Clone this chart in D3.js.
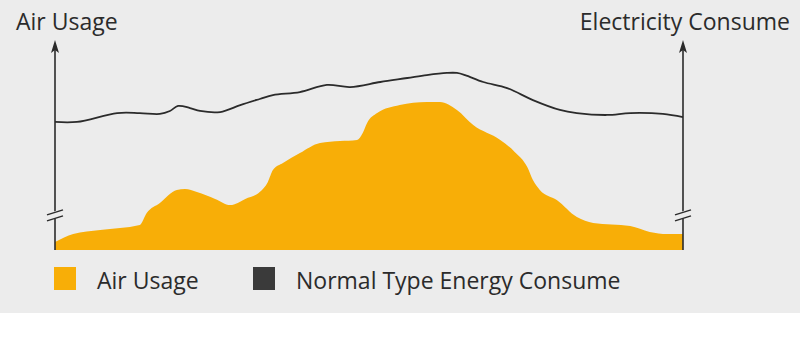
<!DOCTYPE html>
<html>
<head>
<meta charset="utf-8">
<script src="https://cdn.jsdelivr.net/npm/d3@7"></script>
<style>
  html, body { margin: 0; padding: 0; background: #ffffff; }
  svg { display: block; }
</style>
</head>
<body>
<svg id="chart" width="800" height="360"></svg>
<script>
// ---- Data ----
// time position along the x axis (0–100) and air usage value (0–100)
const airTime  = [0, 2.9, 7.2, 13.5, 14.6, 16.7, 19.4, 20.7, 22.6, 25.5, 27.9, 30.3, 32.6, 33.9, 34.7, 36.3, 39, 42.2, 45.4, 48.1, 49, 49.7, 51.3, 54.9, 59.2, 61.3, 64, 66.6, 70.9, 73.2, 75.2, 76.1, 77.2, 79.9, 83.1, 85.7, 91.6, 94.7, 97.5, 100];
const airValue = [3.8, 7.6, 9.5, 11.9, 17.6, 22.4, 28.6, 29, 27.6, 24.3, 21.4, 24.3, 27.6, 32.4, 38.1, 41.4, 46.2, 51, 51.9, 52.4, 55.7, 60.5, 65.2, 69, 70.5, 70.5, 66.7, 59.5, 52.4, 46.7, 39.5, 33.3, 28.6, 23.8, 15.7, 12.9, 11.4, 8.6, 7.6, 7.6];
// electricity consume (normal type) values
const elecTime  = [0, 3.5, 9.9, 13.5, 16.7, 18.3, 19.6, 21.5, 23.1, 26.3, 29.5, 32.6, 34.7, 39, 43.3, 47, 51.8, 56.1, 59.2, 62.4, 64, 65.3, 68.2, 72, 76.1, 80.4, 83.1, 87.9, 91.6, 96.8, 100];
const elecValue = [61, 61, 65.2, 65.2, 64.8, 66.2, 68.6, 67.6, 66.2, 65.7, 69, 71.9, 73.8, 75.2, 78.6, 77.6, 80, 81.9, 83.3, 84.3, 84.3, 83.3, 80, 77.1, 71.4, 66.7, 65.2, 64.3, 65.2, 64.8, 63.3];

const leftAxisTitle  = "Air Usage";
const rightAxisTitle = "Electricity Consume";
const legendLabels   = ["Air Usage", "Normal Type Energy Consume"];
const legendColors   = ["#f8ae07", "#3a3a3a"];

// ---- Layout ----
const svg = d3.select("#chart");
const W = 800, H = 360;
const mLeft = 55, mRight = 683, mTop = 40, mBottom = 250;
const FONT = "'Open Sans', 'Noto Sans', sans-serif";
const INK = "#2b2b2b";

svg.append("rect").attr("x", 0).attr("y", 0).attr("width", W).attr("height", 313).attr("fill", "#ececec");

const x  = d3.scaleLinear().domain([0, 100]).range([mLeft, mRight]);
const yL = d3.scaleLinear().domain([0, 100]).range([mBottom, mTop]);
const yR = d3.scaleLinear().domain([0, 100]).range([mBottom, mTop]);

const air  = airTime.map((t, i) => ({ t, v: airValue[i] }));
const elec = elecTime.map((t, i) => ({ t, v: elecValue[i] }));

// area
svg.append("path")
  .datum(air)
  .attr("fill", legendColors[0])
  .attr("d", d3.area().x(d => x(d.t)).y0(yL(0)).y1(d => yL(d.v)).curve(d3.curveMonotoneX));

// line
svg.append("path")
  .datum(elec)
  .attr("fill", "none")
  .attr("stroke", INK)
  .attr("stroke-width", 1.8)
  .attr("stroke-linejoin", "round")
  .attr("d", d3.line().x(d => x(d.t)).y(d => yR(d.v)).curve(d3.curveCatmullRom.alpha(0.5)));

// axes (no ticks) with arrowheads and break marks
const axisL = d3.axisLeft(yL).tickValues([]).tickSizeOuter(0);
const axisR = d3.axisRight(yR).tickValues([]).tickSizeOuter(0);
const gL = svg.append("g").attr("transform", `translate(${mLeft},0)`).call(axisL);
const gR = svg.append("g").attr("transform", `translate(${mRight},0)`).call(axisR);
[gL, gR].forEach(g => {
  g.select(".domain").remove();
  g.append("line").attr("x1", 0).attr("x2", 0)
    .attr("y1", mBottom).attr("y2", mTop + 6)
    .attr("stroke", INK).attr("stroke-width", 1.6);
  g.append("path")
    .attr("d", `M0,${mTop} L-4,${mTop + 13} L0,${mTop + 10} L4,${mTop + 13} Z`)
    .attr("fill", INK);
  const by = yL(16.5);
  g.append("rect").attr("x", -8).attr("y", by - 4).attr("width", 16).attr("height", 7)
    .attr("fill", "#ececec").attr("transform", `rotate(-18,0,${by})`);
  [-3, 3].forEach(o => {
    g.append("line").attr("x1", -8).attr("x2", 8)
      .attr("y1", by + o + 2.5).attr("y2", by + o - 2.5)
      .attr("stroke", INK).attr("stroke-width", 1.5);
  });
});

// axis titles
svg.append("text").attr("x", 16).attr("y", 30).attr("font-family", FONT)
  .attr("font-size", 23).attr("fill", INK).text(leftAxisTitle);
svg.append("text").attr("x", 790).attr("y", 30).attr("text-anchor", "end").attr("font-family", FONT)
  .attr("font-size", 23).attr("fill", INK).text(rightAxisTitle);

// legend
const legendX = [54, 253];
const lg = svg.append("g");
legendLabels.forEach((lab, i) => {
  lg.append("rect").attr("x", legendX[i]).attr("y", 267).attr("width", 22).attr("height", 23)
    .attr("fill", legendColors[i]);
  lg.append("text").attr("x", legendX[i] + 43).attr("y", 289).attr("font-family", FONT)
    .attr("font-size", 23).attr("fill", INK).text(lab);
});
</script>
</body>
</html>
